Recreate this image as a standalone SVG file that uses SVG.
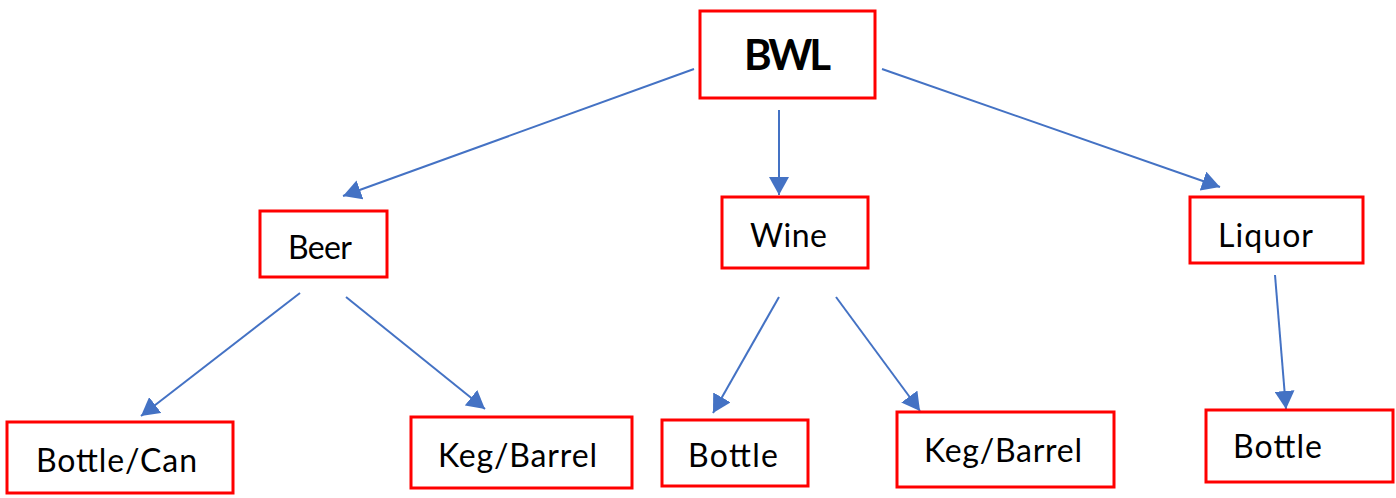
<svg xmlns="http://www.w3.org/2000/svg" width="1396" height="498" viewBox="0 0 1396 498">
<style>
.box{fill:#fff;stroke:#ff0000;stroke-width:3}
.lbl{font-family:Lato,"Open Sans","Liberation Sans",sans-serif;font-size:32px;fill:#000}
.bold{font-weight:bold;font-size:42px}
.edge{stroke:#4472c4;stroke-width:2;fill:none;marker-end:url(#ah)}
</style>
<defs>
<marker id="ah" viewBox="0 0 18 20" refX="18" refY="10" markerWidth="18" markerHeight="20" orient="auto" markerUnits="userSpaceOnUse">
<path d="M0,0 L18,10 L0,20 z" fill="#4472c4"/>
</marker>
</defs>
<rect width="1396" height="498" fill="#fff"/>
<g id="connectors">
<line class="edge" x1="694" y1="69" x2="343" y2="196"/>
<line class="edge" x1="779" y1="110" x2="779" y2="195"/>
<line class="edge" x1="882" y1="69" x2="1220" y2="187"/>
<line class="edge" x1="300" y1="293" x2="141" y2="416"/>
<line class="edge" x1="346" y1="297" x2="485" y2="409"/>
<line class="edge" x1="779" y1="297" x2="713" y2="413"/>
<line class="edge" x1="836" y1="297" x2="920" y2="411"/>
<line class="edge" x1="1275" y1="275" x2="1286" y2="409"/>
</g>
<g id="node-bwl">
<rect class="box" x="700" y="11" width="175" height="87"/>
<text class="lbl bold" x="744" y="70" textLength="87">BWL</text>
</g>
<g id="node-beer">
<rect class="box" x="260" y="211" width="127" height="66"/>
<text class="lbl" x="288" y="259" textLength="64">Beer</text>
</g>
<g id="node-wine">
<rect class="box" x="722" y="197" width="146" height="71"/>
<text class="lbl" x="750" y="247" textLength="77">Wine</text>
</g>
<g id="node-liquor">
<rect class="box" x="1190" y="197" width="173" height="66"/>
<text class="lbl" x="1218" y="247" textLength="95">Liquor</text>
</g>
<g id="node-bottle-can">
<rect class="box" x="7" y="422" width="226" height="71"/>
<text class="lbl" x="36" y="472" textLength="161">Bottle/Can</text>
</g>
<g id="node-keg-barrel-1">
<rect class="box" x="411" y="417" width="221" height="71"/>
<text class="lbl" x="438" y="467" textLength="159">Keg/Barrel</text>
</g>
<g id="node-bottle-1">
<rect class="box" x="662" y="420" width="146" height="66"/>
<text class="lbl" x="688" y="467" textLength="90">Bottle</text>
</g>
<g id="node-keg-barrel-2">
<rect class="box" x="897" y="412" width="217" height="75"/>
<text class="lbl" x="924" y="462" textLength="158">Keg/Barrel</text>
</g>
<g id="node-bottle-2">
<rect class="box" x="1206" y="410" width="187" height="72"/>
<text class="lbl" x="1233" y="458" textLength="89">Bottle</text>
</g>
</svg>
